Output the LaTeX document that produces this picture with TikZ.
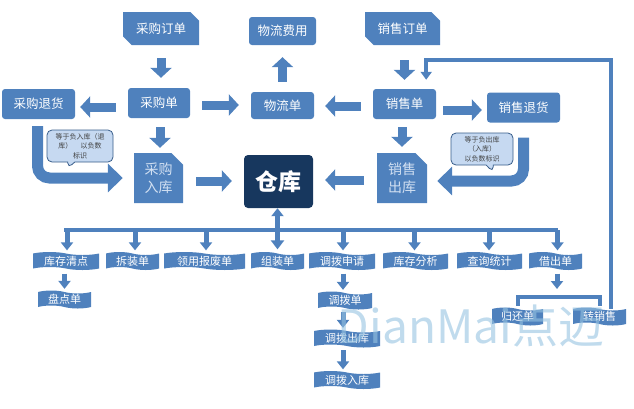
\documentclass[tikz,border=0pt]{standalone}
\usepackage{fontspec}
\setmainfont{Noto Sans CJK SC}
\usetikzlibrary{arrows.meta,shapes.misc,shapes.symbols,shapes.callouts}
\definecolor{mb}{RGB}{79,129,189}
\definecolor{navy}{RGB}{23,55,94}
\definecolor{cfill}{RGB}{198,217,241}
\definecolor{cdraw}{RGB}{56,93,138}
\definecolor{lt}{RGB}{210,224,242}
\definecolor{wm}{RGB}{150,195,225}
\begin{document}
\begin{tikzpicture}[x=1pt,y=-1pt,
  box/.style={rectangle, fill=mb, text=white, rounded corners=3pt, inner sep=0pt, font=\fontsize{12.5}{14}\selectfont},
  snipbox/.style={chamfered rectangle, chamfered rectangle corners={north east,south west}, chamfered rectangle xsep=5pt, fill=mb, text=white, inner sep=0pt, font=\fontsize{12.5}{14}\selectfont},
  inbox/.style={chamfered rectangle, chamfered rectangle corners={north east}, chamfered rectangle xsep=8pt, fill=mb, text=lt, inner sep=0pt, align=center, font=\fontsize{14}{18}\selectfont},
  ckbox/.style={rectangle, fill=navy, text=white, rounded corners=4pt, inner sep=0pt, font=\fontsize{23}{25}\selectfont\bfseries},
  item/.style={tape, tape bend top=out and in, tape bend bottom=out and in, tape bend height=3pt, fill=mb, text=white, inner sep=0pt, minimum height=18pt, font=\fontsize{11}{12}\selectfont},
  callbox/.style={rectangle callout, fill=cfill, draw=cdraw, line width=0.8pt, rounded corners=5pt, align=center, text=black!75, inner sep=1pt, font=\fontsize{7}{9.5}\selectfont},
  fat/.style={draw=mb, line width=9pt, -{Triangle[width=21pt,length=10pt]}},
  bent/.style={draw=mb, line width=11pt, rounded corners=12pt, -{Triangle[width=28pt,length=15pt]}},
  smallarrow/.style={draw=mb, line width=5pt, -{Triangle[width=12pt,length=8pt]}},
  dblarrow/.style={draw=mb, line width=5pt, {Triangle[width=12pt,length=8pt]}-{Triangle[width=13pt,length=9pt]}},
  barline/.style={draw=mb, line width=4pt},
  retline/.style={draw=mb, line width=4pt, -{Triangle[width=11pt,length=8pt]}}
]
\useasboundingbox (0,0) rectangle (634,408);

% top row
\node[snipbox, minimum width=76pt, minimum height=33pt] (po) at (161,28.5) {采购订单};
\node[box, minimum width=67pt, minimum height=28pt] (wf) at (282.5,31) {物流费用};
\node[snipbox, minimum width=75pt, minimum height=33pt] (so) at (402.5,28.5) {销售订单};
% second row
\node[box, minimum width=73pt, minimum height=30pt] (pr) at (38.5,104) {采购退货};
\node[box, minimum width=62pt, minimum height=30pt] (pu) at (159,103) {采购单};
\node[box, minimum width=63pt, minimum height=27pt] (wl) at (282.5,105.5) {物流单};
\node[box, minimum width=63pt, minimum height=30pt] (su) at (404.5,104) {销售单};
\node[box, minimum width=73pt, minimum height=30pt] (sr) at (523.5,107.5) {销售退货};
% third row
\node[inbox, minimum width=49pt, minimum height=50pt] (pin) at (158.5,178) {采购\\入库};
\node[inbox, minimum width=50pt, minimum height=50pt] (sout) at (402,178) {销售\\出库};
\node[ckbox, minimum width=69pt, minimum height=53pt] (ck) at (278.5,181.5) {仓库};

% callouts
\node[callbox, minimum width=66pt, minimum height=32pt, callout absolute pointer={(68,168)}] (c1) at (80,146) {等于负入库（退\\库）\hspace{1.2em}以负数\\标识};
\node[callbox, minimum width=62pt, minimum height=32pt, callout absolute pointer={(493,172)}] (c2) at (482,149) {等于负出库\\（入库）\\以负数标识};

% bottom items
\node[item, minimum width=66pt] (kc) at (66,261) {库存清点};
\node[item, minimum width=53pt] (cz) at (132.5,261) {拆装单};
\node[item, minimum width=81pt] (ly) at (204.5,261) {领用报废单};
\node[item, minimum width=53pt] (zz) at (277.5,261) {组装单};
\node[item, minimum width=66pt] (db) at (342,261) {调拨申请};
\node[item, minimum width=65pt] (kf) at (415.5,261) {库存分析};
\node[item, minimum width=65pt] (cx) at (489.5,261) {查询统计};
\node[item, minimum width=53pt] (jc) at (555.5,261) {借出单};
\node[item, minimum width=53pt] (pd) at (64.5,299.5) {盘点单};
\node[item, minimum width=54pt] (dbd) at (345,300.5) {调拨单};
\node[item, minimum width=66pt] (dbc) at (347,338.5) {调拨出库};
\node[item, minimum width=66pt] (dbr) at (347,380) {调拨入库};
\node[item, minimum width=51pt] (gh) at (517.5,316.5) {归还单};
\node[item, minimum width=53pt] (zx) at (599.5,316.5) {转销售};

% fat arrows
\draw[fat, shorten <=13pt, shorten >=10pt] (po.south) -- (po.south |- pu.north);
\draw[fat, shorten <=10pt, shorten >=12pt] (wl.north) -- (wl.north |- wf.south);
\draw[fat, shorten <=15pt, shorten >=9pt] (su.north |- so.south) -- (su.north);
\draw[fat, shorten <=12pt, shorten >=5pt] ([yshift=-4pt]pu.west) -- ([yshift=-4pt]pu.west -| pr.east);
\draw[fat, shorten <=12pt, shorten >=12pt] ([yshift=-2pt]pu.east) -- ([yshift=-2pt]pu.east -| wl.west);
\draw[fat, shorten <=12pt, shorten >=11pt] ([yshift=-2pt]su.west) -- ([yshift=-2pt]su.west -| wl.east);
\draw[fat, shorten <=7pt, shorten >=5pt] ([yshift=-6pt]su.east) -- ([yshift=-6pt]su.east -| sr.west);
\draw[fat, shorten <=9pt, shorten >=5pt] ([xshift=1pt]pu.south) -- ([xshift=1pt]pu.south |- pin.north);
\draw[fat, shorten <=8pt, shorten >=6pt] (su.south -| sout.north) -- (sout.north);
\draw[fat, shorten <=13pt, shorten >=12pt] ([yshift=-3pt]pin.east) -- ([yshift=-3pt]pin.east -| ck.west);
\draw[fat, shorten <=13pt, shorten >=12pt] ([yshift=-2pt]sout.west) -- ([yshift=-2pt]sout.west -| ck.east);

% bent arrows (returns)
\draw[bent, shorten <=7pt, shorten >=11pt] ([xshift=-1pt]pr.south) |- (pin.west);
\draw[bent, shorten <=15pt, shorten >=10pt] (sr.south) |- ([yshift=-3pt]sout.east);

% warehouse to bottom
\coordinate (barc) at (0,230);
\draw[dblarrow, shorten >=4pt] (zz.north |- ck.south) -- (zz.north);
\draw[barline, line cap=rect] (kc.north |- barc) -- (jc.north |- barc);
\foreach \n/\dx in {kc/1, cz/2.5, ly/1.5, db/1, kf/-1, cx/-0.5, jc/2}{
  \draw[smallarrow, shorten >=3pt] ([xshift=\dx pt]\n.north |- barc) -- ([xshift=\dx pt]\n.north);
}
\draw[smallarrow, shorten <=5pt, shorten >=3pt] (kc.south -| pd.north) -- (pd.north);
\draw[smallarrow, shorten <=5pt, shorten >=3pt] ([xshift=1pt]db.south) -- ([xshift=1pt]db.south |- dbd.north);
\draw[smallarrow, shorten <=4pt, shorten >=3pt] ([xshift=-4pt]dbd.south -| dbc.north) -- ([xshift=-4pt]dbc.north);
\draw[smallarrow, shorten <=4pt, shorten >=3pt] ([xshift=-4pt]dbc.south) -- ([xshift=-4pt]dbr.north);

% lending branch
\coordinate (brk) at (0,297);
\draw[smallarrow, shorten <=5pt, shorten >=8pt] ([xshift=1.5pt]jc.south) -- ([xshift=1.5pt]jc.south |- brk);
\draw[barline, shorten <=3pt, shorten >=3pt] (gh.north) -- (gh.north |- brk) -- (zx.north |- brk) -- (zx.north);
\coordinate (rtop) at (611,60);
\draw[retline, shorten >=9pt] (zx.north -| rtop) -- (rtop) -| ([xshift=-10pt]su.north east);

% watermark
\node[text=wm, opacity=0.6, inner sep=0pt, font=\fontsize{46}{46}\selectfont] (wmk) at (471,326) {DianMai点迈};
\end{tikzpicture}
\end{document}
